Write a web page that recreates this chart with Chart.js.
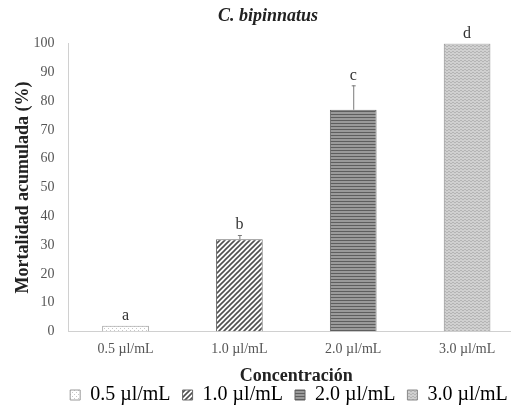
<!DOCTYPE html>
<html>
<head>
<meta charset="utf-8">
<script src="https://cdn.jsdelivr.net/npm/chart.js@4.4.1/dist/chart.umd.min.js"></script>
<style>
  html, body { margin: 0; padding: 0; background: #fff; overflow: hidden; }
  #wrap { width: 540px; height: 415px; }
</style>
</head>
<body>
<div id="wrap"><canvas id="graphics"></canvas></div>
<script>
// data
const categories = ['0.5 µl/mL', '1.0 µl/mL', '2.0 µl/mL', '3.0 µl/mL'];
const mortality = [2, 32, 77, 100];
const errorUp = [0, 1.5, 8.5, 0];
const letters = ['a', 'b', 'c', 'd'];
const yTicks = [0, 10, 20, 30, 40, 50, 60, 70, 80, 90, 100];

const serif = "'Liberation Serif', 'DejaVu Serif', serif";

function makePattern(kind) {
    let c = document.createElement('canvas');
    let g = c.getContext('2d');
    if (kind === 0) {
        c.width = 4; c.height = 4;
        g.fillStyle = '#fff'; g.fillRect(0, 0, 4, 4);
        g.fillStyle = '#c8c8c8'; g.fillRect(0, 0, 1, 1); g.fillRect(2, 2, 1, 1);
    } else if (kind === 1) {
        c.width = 5; c.height = 5;
        g.fillStyle = '#fff'; g.fillRect(0, 0, 5, 5);
        g.strokeStyle = '#505050'; g.lineWidth = 1.6;
        g.beginPath();
        g.moveTo(-1, 6); g.lineTo(6, -1);
        g.moveTo(-1, 1); g.lineTo(1, -1);
        g.moveTo(4, 6); g.lineTo(6, 4);
        g.stroke();
    } else if (kind === 2) {
        c.width = 4; c.height = 3;
        g.fillStyle = '#9a9a9a'; g.fillRect(0, 0, 4, 3);
        g.fillStyle = '#5e5e5e'; g.fillRect(0, 0, 4, 1);
    } else {
        c.width = 4; c.height = 3;
        g.fillStyle = '#d0d0d0'; g.fillRect(0, 0, 4, 3);
        g.fillStyle = '#b4b4b4'; g.fillRect(0, 0, 2, 1); g.fillRect(2, 1, 2, 1);
    }
    return g.createPattern(c, 'repeat');
}

const fills = [0, 1, 2, 3].map(makePattern);
const borders = ['#9a9a9a', '#6a6a6a', '#606060', '#8a8a8a'];

// error bars and letters on top of the bars
const extras = {
    id: 'extras',
    afterLayout(chart) {
        // legend sits a bit right of centre in the original
        chart.legend.left += 21;
        chart.legend.right += 21;
    },
    afterDatasetsDraw(chart) {
        const ctx = chart.ctx;
        const x = chart.scales.x, y = chart.scales.y;
        ctx.save();
        mortality.forEach((v, i) => {
            const px = x.getPixelForValue(i);
            const top = y.getPixelForValue(v + errorUp[i]);
            if (errorUp[i] > 0) {
                ctx.strokeStyle = '#7a7a7a';
                ctx.lineWidth = 1;
                ctx.beginPath();
                ctx.moveTo(px + 0.5, y.getPixelForValue(v));
                ctx.lineTo(px + 0.5, top);
                ctx.moveTo(px - 1.5, top + 0.5);
                ctx.lineTo(px + 2.5, top + 0.5);
                ctx.stroke();
            }
            ctx.fillStyle = '#333';
            ctx.font = '16px ' + serif;
            ctx.textAlign = 'center';
            ctx.textBaseline = 'bottom';
            ctx.fillText(letters[i], px, top - 2);
        });
        ctx.restore();
    }
};

var ctx = document.getElementById('graphics').getContext('2d');
var myChart = new Chart(ctx, {
    type: 'bar',
    data: {
        labels: categories,
        datasets: [{
            label: 'Mortalidad',
            data: mortality,
            backgroundColor: fills,
            borderColor: borders,
            borderWidth: 1,
            barPercentage: 0.41,
            categoryPercentage: 1
        }]
    },
    options: {
        responsive: true,
        maintainAspectRatio: false,
        animation: false,
        layout: { padding: { left: 12, right: 16, top: 6, bottom: 0 } },
        plugins: {
            title: {
                display: true,
                text: 'C. bipinnatus',
                color: '#222',
                font: { family: serif, size: 18, weight: 'bold', style: 'italic' },
                padding: { top: 0, bottom: 16 }
            },
            legend: {
                position: 'bottom',
                labels: {
                    boxWidth: 10,
                    boxHeight: 10,
                    padding: 12,
                    color: '#444',
                    font: { family: serif, size: 20 },
                    generateLabels: () => categories.map((c, i) => ({
                        text: c,
                        fillStyle: fills[i],
                        strokeStyle: borders[i],
                        lineWidth: 1,
                        index: i
                    }))
                }
            },
            tooltip: { enabled: false }
        },
        scales: {
            x: {
                grid: { display: false, drawTicks: false },
                border: { color: '#d0d0d0' },
                ticks: { color: '#555', font: { family: serif, size: 14 }, padding: 9.6 },
                title: {
                    display: true,
                    text: 'Concentración',
                    color: '#222',
                    font: { family: serif, size: 18, weight: 'bold' },
                    padding: { top: -2, bottom: -14 }
                }
            },
            y: {
                min: 0,
                max: 100,
                afterBuildTicks: axis => { axis.ticks = yTicks.map(v => ({ value: v })); },
                grid: { display: false, drawTicks: false },
                border: { color: '#d0d0d0' },
                ticks: { color: '#555', font: { family: serif, size: 14 }, padding: 14 },
                title: {
                    display: true,
                    text: 'Mortalidad acumulada (%)',
                    color: '#222',
                    font: { family: serif, size: 18, weight: 'bold' },
                    padding: { top: 1, bottom: -15 }
                }
            }
        }
    },
    plugins: [extras]
});
</script>
</body>
</html>
